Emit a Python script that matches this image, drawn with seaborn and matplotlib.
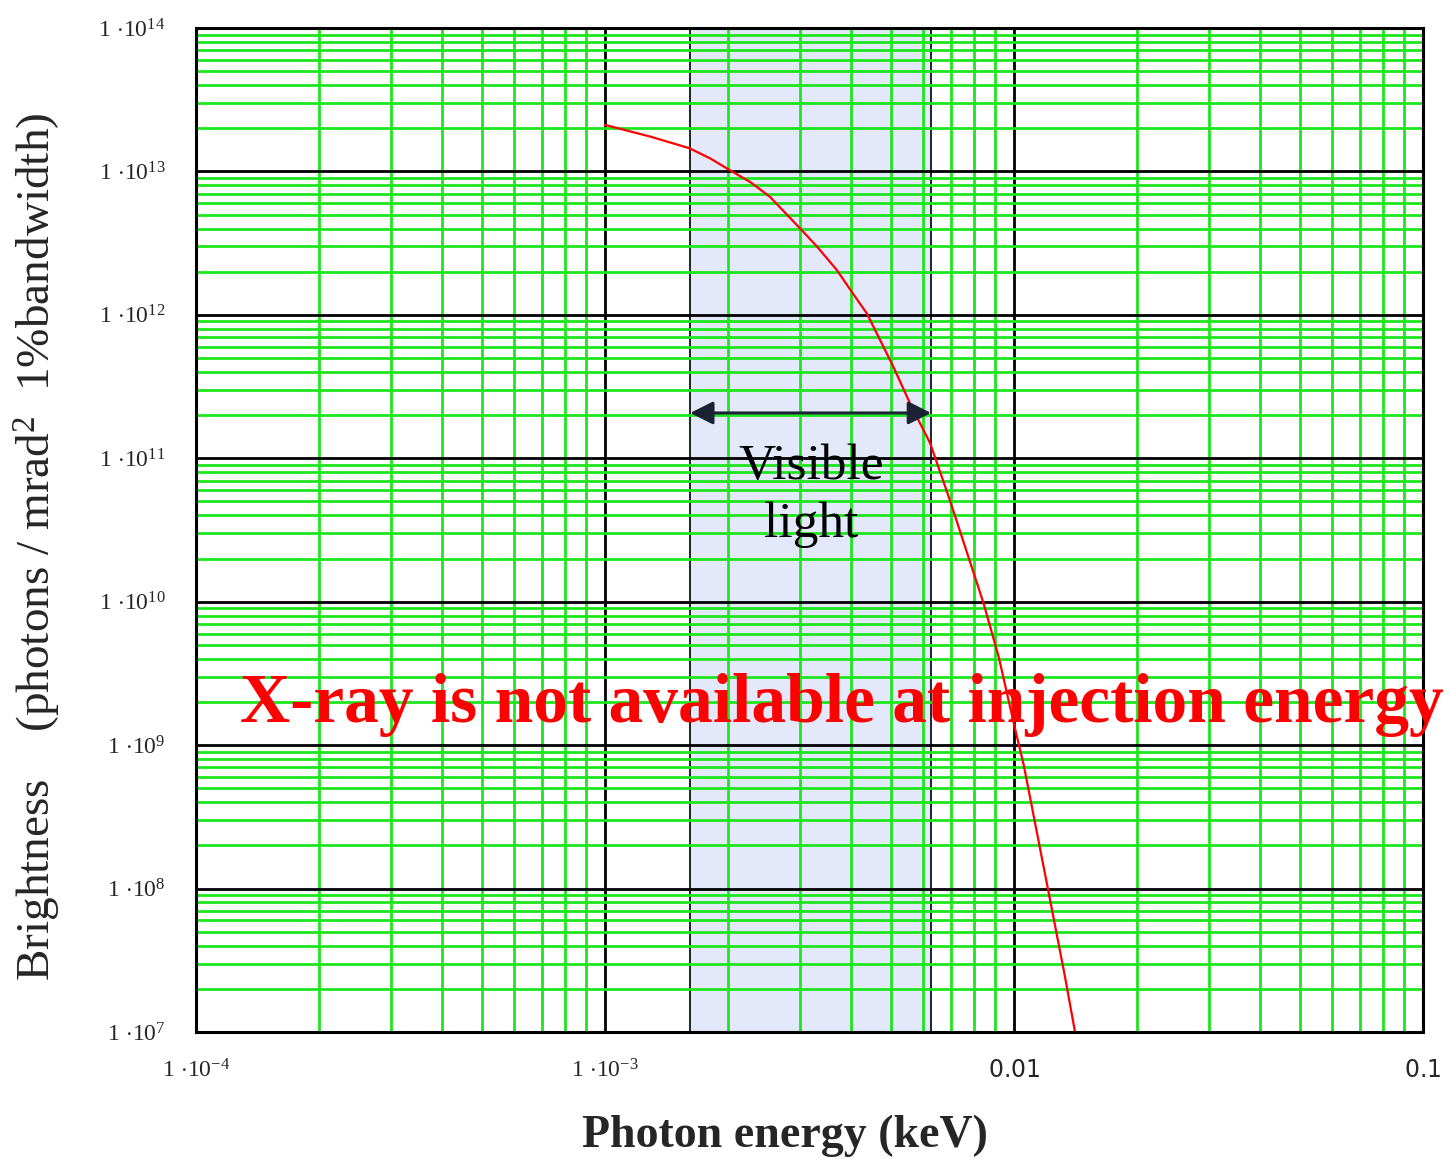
import numpy as np
import pandas as pd
import matplotlib
matplotlib.use("Agg")
import matplotlib.pyplot as plt
import seaborn as sns
from matplotlib.ticker import FixedLocator, FuncFormatter, NullFormatter

# ---- data ----
energy_keV = [1.0e-3, 1.29e-3, 1.61e-3, 1.81e-3, 2.02e-3, 2.27e-3, 2.53e-3, 3.0e-3, 3.3e-3,
              3.69e-3, 4.01e-3, 4.37e-3, 5.07e-3, 5.57e-3, 6.24e-3, 6.97e-3,
              8.43e-3, 9.18e-3, 1.0e-2, 1.057e-2, 1.21e-2, 1.33e-2, 1.41e-2]
brightness = [2.11e13, 1.75e13, 1.45e13, 1.23e13, 1.02e13, 8.4e12, 6.66e12, 4.0e12, 2.99e12,
              2.05e12, 1.45e12, 1.02e12, 4.35e11, 2.41e11, 1.27e11, 5.1e10,
              9.7e9, 4.1e9, 1.4e9, 7.2e8, 1.0e8, 2.5e7, 1.0e7]
visible_range = [1.615e-3, 6.27e-3]
arrow_level = 2.07e11
x_decades = [-4, -3, -2, -1]
y_decades = [7, 8, 9, 10, 11, 12, 13, 14]
visible_label = "Visible\nlight"
banner_text = "X-ray is not available at injection energy"
x_label = "Photon energy (keV)"
y_label = "Brightness    (photons / mrad$^{2}$  1%bandwidth)"

df = pd.DataFrame({"energy": energy_keV, "brightness": brightness})

sns.set_style("white")
plt.rcParams["font.family"] = ["Liberation Serif", "DejaVu Serif"]
plt.rcParams["mathtext.fontset"] = "custom"
plt.rcParams["mathtext.rm"] = "Liberation Serif"
plt.rcParams["mathtext.it"] = "Liberation Serif:italic"
plt.rcParams["mathtext.bf"] = "Liberation Serif:bold"
plt.rcParams["mathtext.sf"] = "DejaVu Sans"

fig = plt.figure(figsize=(14.5, 11.61), dpi=100)
ax = fig.add_axes([196 / 1450, 1 - 1032 / 1161, (1423 - 196) / 1450, (1032 - 28) / 1161])
ax.set_xscale("log")
ax.set_yscale("log")
ax.set_xlim(10.0 ** x_decades[0], 10.0 ** x_decades[-1])
ax.set_ylim(10.0 ** y_decades[0], 10.0 ** y_decades[-1])

ax.axvspan(visible_range[0], visible_range[1], facecolor="#E3E9FB",
           edgecolor="black", linewidth=1.2, zorder=0.2)
ax.set_axisbelow(True)


def decade_ticks(decs):
    major = [10.0 ** d for d in decs]
    minor = [m * 10.0 ** d for d in decs[:-1] for m in range(2, 10)]
    return major, minor


for axis, decs in ((ax.xaxis, x_decades), (ax.yaxis, y_decades)):
    major, minor = decade_ticks(decs)
    axis.set_major_locator(FixedLocator(major))
    axis.set_minor_locator(FixedLocator(minor))
    axis.set_minor_formatter(NullFormatter())

ax.grid(which="minor", color="#1EE61E", linewidth=2)
ax.grid(which="major", color="black", linewidth=2)

sns.lineplot(data=df, x="energy", y="brightness", color="red", linewidth=1.6,
             ax=ax, zorder=3, legend=False)


def x_fmt(v, pos):
    e = int(round(np.log10(v)))
    if e >= -2:
        return r"$\mathsf{%g}$" % v
    return r"$1\,\cdot\!10^{%d}$" % e


def y_fmt(v, pos):
    return r"$1\,\cdot\!10^{%d}$" % int(round(np.log10(v)))


ax.xaxis.set_major_formatter(FuncFormatter(x_fmt))
ax.yaxis.set_major_formatter(FuncFormatter(y_fmt))
ax.tick_params(which="both", length=0)
ax.tick_params(axis="y", which="major", pad=22, labelsize=17)
ax.tick_params(axis="x", which="major", pad=20, labelsize=17)
ax.set_xlabel("")
ax.set_ylabel("")

for s in ax.spines.values():
    s.set_color("black")
    s.set_linewidth(2.2)
    s.set_zorder(5)

ax.annotate("", xy=(visible_range[0], arrow_level), xytext=(visible_range[1], arrow_level),
            arrowprops=dict(arrowstyle="<|-|>", color="#1B2233", lw=2.2,
                            mutation_scale=35, shrinkA=0, shrinkB=0), zorder=4)
ax.text(3.2e-3, 5.5e10, visible_label, ha="center", va="center", fontsize=37,
        linespacing=1.32, color="black", zorder=4)

fig.text(240 / 1450, 1 - 722 / 1161, banner_text, color="red", fontsize=50,
         fontweight="bold", ha="left", va="baseline")
fig.text(785 / 1450, 1 - 1147 / 1161, x_label, fontsize=33, fontweight="bold",
         ha="center", va="baseline")
fig.text(38 / 1450, 1 - 547 / 1161, y_label, fontsize=34, rotation=90,
         ha="center", va="center")

fig.savefig("out.png", dpi=100)
